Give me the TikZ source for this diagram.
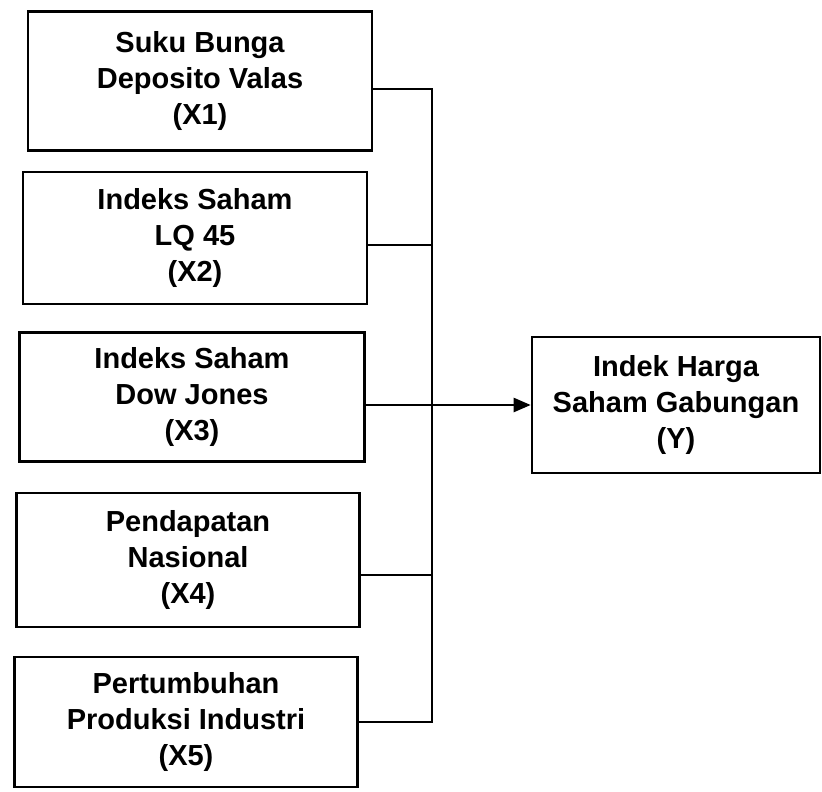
\documentclass[tikz,border=0pt]{standalone}
\usepackage{fontspec}
\setmainfont{Liberation Sans}
\usetikzlibrary{arrows.meta}
\begin{document}
\begin{tikzpicture}[x=1pt,y=-1pt,
  box/.style={draw,line width=2.6pt,rectangle,align=center,inner sep=0pt,
    font=\fontsize{29}{36}\selectfont\bfseries},
  conn/.style={line width=2.4pt}]
\useasboundingbox (0,0) rectangle (822,792);
\node[box,minimum width=344pt,minimum height=139pt] (X1) at (200,81) {Suku Bunga\\Deposito Valas\\(X1)};
\node[box,minimum width=344pt,minimum height=132pt] (X2) at (195,238) {Indeks Saham\\LQ 45\\(X2)};
\node[box,minimum width=345pt,minimum height=129pt] (X3) at (192,397) {Indeks Saham\\Dow Jones\\(X3)};
\node[box,minimum width=343pt,minimum height=134pt] (X4) at (188,560) {Pendapatan\\Nasional\\(X4)};
\node[box,minimum width=343pt,minimum height=130pt] (X5) at (186,722) {Pertumbuhan\\Produksi Industri\\(X5)};
\node[box,minimum width=288pt,minimum height=136pt] (Y) at (676,405) {Indek Harga\\Saham Gabungan\\(Y)};
\coordinate (b1) at (432,89);
\coordinate (b2) at (432,245);
\coordinate (b4) at (432,575);
\coordinate (b5) at (432,722);
\draw[conn] (X1.east |- b1) -- (b1) -- (b5) -- (X5.east |- b5);
\draw[conn] (X2.east |- b2) -- (b2);
\draw[conn] (X4.east |- b4) -- (b4);
\draw[conn,-{Triangle[length=17pt,width=14pt]}] (X3.east |- Y.west) -- (Y.west);
\end{tikzpicture}
\end{document}
